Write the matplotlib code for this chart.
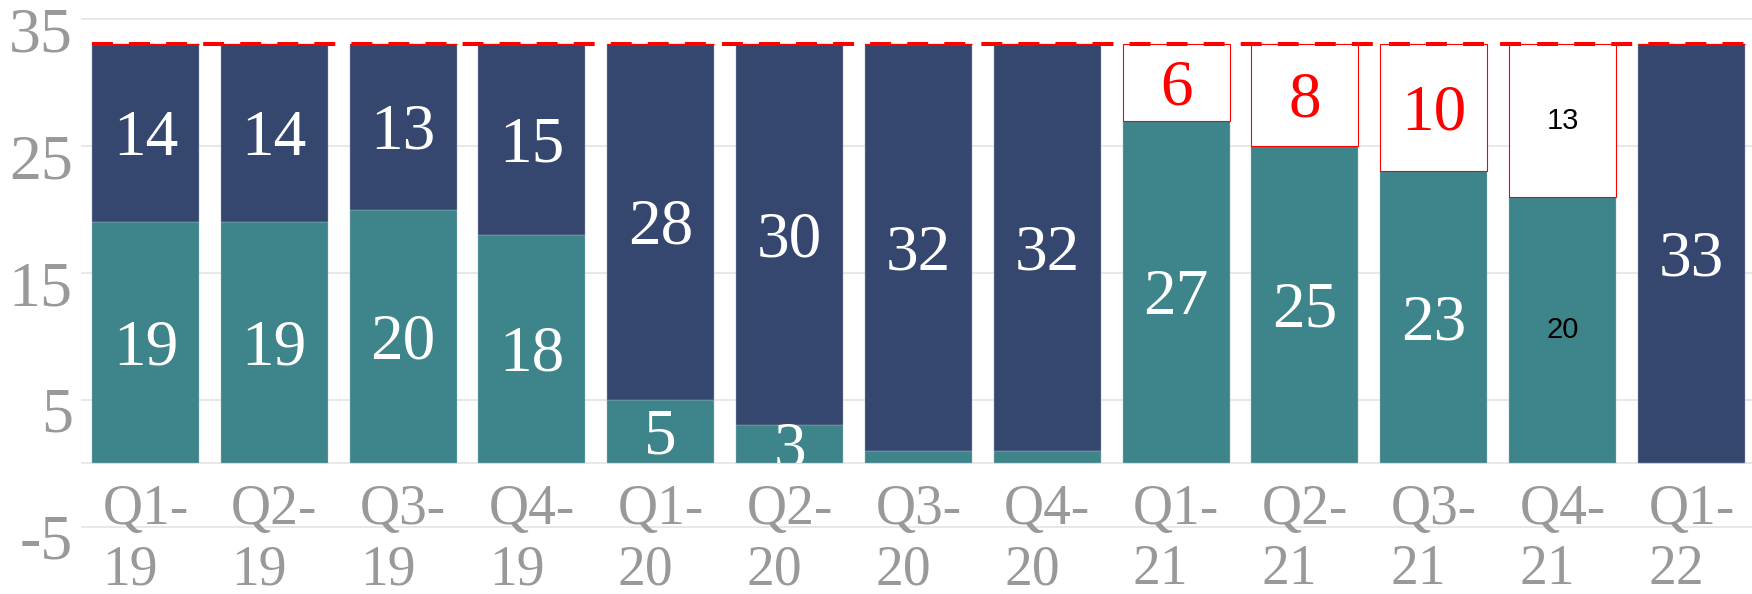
import matplotlib
matplotlib.use('Agg')
import matplotlib.pyplot as plt
import matplotlib.transforms as mtransforms
from matplotlib.patches import Rectangle
import numpy as np

# 数据
quarters = ['Q1-19', 'Q2-19', 'Q3-19', 'Q4-19', 'Q1-20', 'Q2-20', 'Q3-20', 'Q4-20',
            'Q1-21', 'Q2-21', 'Q3-21', 'Q4-21', 'Q1-22']
teal_vals = [19, 19, 20, 18, 5, 3, 1, 1, 27, 25, 23, 21, 0]
navy_vals = [14, 14, 13, 15, 28, 30, 32, 32, 0, 0, 0, 0, 33]
gap_vals = [0, 0, 0, 0, 0, 0, 0, 0, 6, 8, 10, 12, 0]
teal_labels = ['19', '19', '20', '18', '5', '3', '', '', '27', '25', '23', '20', '']
navy_labels = ['14', '14', '13', '15', '28', '30', '32', '32', '', '', '', '', '33']
gap_labels = ['', '', '', '', '', '', '', '', '6', '8', '10', '13', '']
plain_bars = ['Q4-21']   # 这一根用黑色无衬线小字
target = 33
y_ticks = [-5, 5, 15, 25, 35]
y_tick_labels = ['-5', '5', '15', '25', '35']

TEAL = '#3D858A'
NAVY = '#35476E'
RED = '#FF0000'
GREY = '#999999'
SERIF = ['Liberation Serif', 'DejaVu Serif']
SANS = ['Liberation Sans', 'DejaVu Sans']

fig = plt.figure(figsize=(17.52, 5.94), dpi=100)
ax = fig.add_axes([81 / 1752, 0, 1 - 81 / 1752, 1])
ax.set_xlim(-0.5, 12.47)
ax.set_ylim(-10.28, 36.5)

x = np.arange(len(quarters))
teal = np.array(teal_vals)
navy = np.array(navy_vals)
gap = np.array(gap_vals)
w = 0.83

# 网格线
for yv in y_ticks + [0]:
    ax.axhline(yv, color='#E6E6E6', lw=1.3, zorder=0)

ax.bar(x, teal, width=w, color=TEAL, edgecolor='#9FB7C0', linewidth=0.3, zorder=2)
ax.bar(x, navy, bottom=teal, width=w, color=NAVY, edgecolor='#9FA8BC', linewidth=0.3, zorder=2)
ax.bar(x, gap, bottom=teal + navy, width=w, color='white', edgecolor=RED, linewidth=0.8, zorder=2)

# 目标线
left_frac = (-w / 2 - (-0.5)) / (12.47 + 0.5)
ax.axhline(target, xmin=left_frac, xmax=1, color=RED, lw=2.9,
           linestyle=(0, (5.2, 4.0)), zorder=4)

# 数值标签
clip_rect = Rectangle((-0.5, 0), 14, 40, transform=ax.transData)
lab_tr = mtransforms.offset_copy(ax.transData, fig=fig, y=-6, units='dots')


def put_label(xi, yc, txt, color, plain):
    if not txt:
        return
    if plain:
        t = ax.text(xi, yc, txt, ha='center', va='center', color='black',
                    fontsize=21, family=SANS, zorder=5)
    else:
        t = ax.text(xi, yc, txt, ha='center', va='center', color=color,
                    fontsize=47, family=SERIF, zorder=5, transform=lab_tr)
    t.set_clip_path(clip_rect)
    t.set_clip_on(True)


for i, q in enumerate(quarters):
    plain = q in plain_bars
    put_label(x[i], teal[i] / 2, teal_labels[i], 'white', plain)
    put_label(x[i], teal[i] + navy[i] / 2, navy_labels[i], 'white', plain)
    put_label(x[i], teal[i] + navy[i] + gap[i] / 2, gap_labels[i], RED, plain)

# x 轴标签（画在图内）
for i, q in enumerate(quarters):
    a, b = q.split('-')
    ax.text(x[i], -9.5, a + '-\n' + b, ha='center', va='baseline',
            multialignment='left', linespacing=1.2, color=GREY,
            fontsize=40, family=SERIF, zorder=5)

# y 轴标签
ax.set_yticks(y_ticks)
ax.set_yticklabels(y_tick_labels, fontsize=46, color=GREY, family=SERIF)
ax.tick_params(axis='y', length=0, pad=6)
ax.set_xticks([])
down = mtransforms.ScaledTranslation(0, -10 / 100, fig.dpi_scale_trans)
for lab in ax.get_yticklabels():
    lab.set_transform(lab.get_transform() + down)

for s in ax.spines.values():
    s.set_visible(False)
ax.patch.set_alpha(0)

fig.savefig('out.png', dpi=100)
